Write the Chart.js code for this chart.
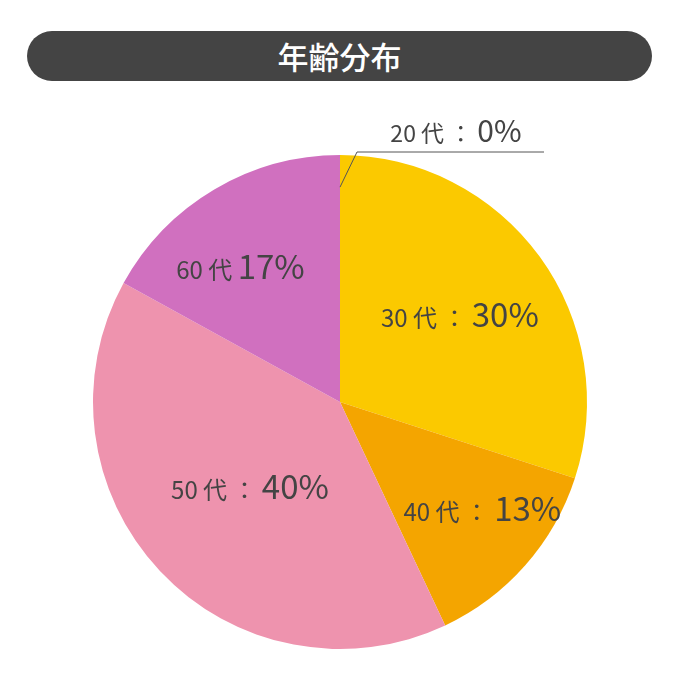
<!DOCTYPE html>
<html>
<head>
<meta charset="utf-8">
<script src="https://cdn.jsdelivr.net/npm/chart.js@4/dist/chart.umd.min.js"></script>
<style>
  html, body { margin: 0; padding: 0; background: #fff; }
  #wrap { position: relative; width: 680px; height: 680px; }
  #title {
    position: absolute; left: 27px; top: 31px; width: 625px; height: 50px;
    background: #444; border-radius: 25px; color: #fff;
    font: 500 31px "Noto Sans CJK JP", sans-serif;
    line-height: 50px; text-align: center;
  }
  canvas { position: absolute; left: 0; top: 0; }
</style>
</head>
<body>
<div id="wrap">
  <div id="title">年齢分布</div>
  <canvas id="c" width="680" height="680"></canvas>
</div>
<script>
const categories = ['20 代', '30 代', '40 代', '50 代', '60 代'];
const shares = [0, 30, 13, 40, 17];
const colors = ['#999999', '#FBC900', '#F4A500', '#EE93AE', '#D070BF'];

// where each label sits, as a fraction of the radius
const labelRadius = [0, 0.6, 0.72, 0.5, 0.68];
const labelAngleShift = [0, 0, -0.08, 0, -0.1];

const FONT = '"Noto Sans CJK JP", sans-serif';

function drawLabel(ctx, x, y, small, big, smallSize, bigSize) {
  ctx.font = smallSize + 'px ' + FONT;
  const w1 = ctx.measureText(small).width;
  ctx.font = bigSize + 'px ' + FONT;
  const w2 = ctx.measureText(big).width;
  let left = x - (w1 + w2) / 2;
  ctx.textAlign = 'left';
  ctx.textBaseline = 'alphabetic';
  ctx.fillStyle = '#444';
  ctx.font = smallSize + 'px ' + FONT;
  ctx.fillText(small, left, y);
  ctx.font = bigSize + 'px ' + FONT;
  ctx.fillText(big, left + w1, y);
}

const labelPlugin = {
  id: 'sliceLabels',
  afterDatasetsDraw(chart) {
    const ctx = chart.ctx;
    const arcs = chart.getDatasetMeta(0).data;
    ctx.save();
    arcs.forEach((arc, i) => {
      const sep = (i === 4) ? ' ' : ' ： ';
      if (shares[i] === 0) {
        // leader line for empty slice
        const a = arc.startAngle;
        const r = arc.outerRadius;
        const x0 = arc.x + Math.cos(a) * r * 0.87;
        const y0 = arc.y + Math.sin(a) * r * 0.87;
        const ex = arc.x + 17, ey = arc.y - r - 3;
        ctx.strokeStyle = '#555';
        ctx.lineWidth = 1;
        ctx.beginPath();
        ctx.moveTo(x0, y0);
        ctx.lineTo(ex, ey);
        ctx.lineTo(arc.x + 204, ey);
        ctx.stroke();
        drawLabel(ctx, arc.x + 116, ey - 10, categories[i] + sep, shares[i] + '%', 23, 30);
        return;
      }
      const mid = (arc.startAngle + arc.endAngle) / 2 + labelAngleShift[i];
      const r = arc.outerRadius * labelRadius[i];
      const x = arc.x + Math.cos(mid) * r;
      const y = arc.y + Math.sin(mid) * r;
      drawLabel(ctx, x, y + 12, categories[i] + sep, shares[i] + '%', 24, 33);
    });
    ctx.restore();
  }
};

new Chart(document.getElementById('c'), {
  type: 'pie',
  data: {
    labels: categories,
    datasets: [{
      data: shares,
      backgroundColor: colors,
      borderWidth: 0
    }]
  },
  options: {
    responsive: false,
    animation: false,
    layout: { padding: { top: 155, bottom: 31, left: 0, right: 0 } },
    plugins: {
      legend: { display: false },
      tooltip: { enabled: false }
    }
  },
  plugins: [labelPlugin]
});
</script>
</body>
</html>
